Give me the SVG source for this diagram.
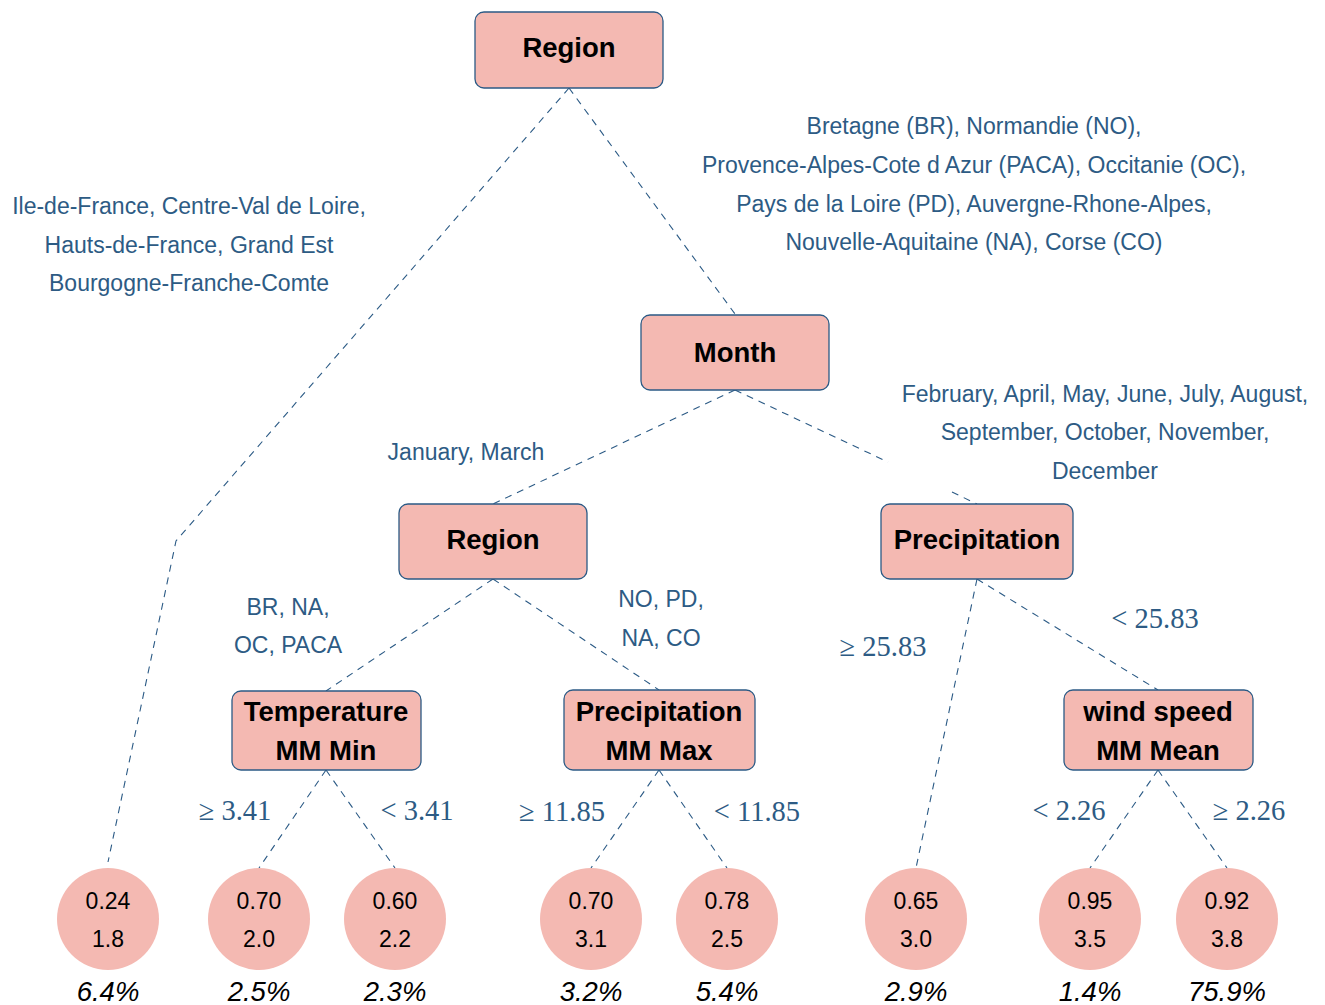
<svg xmlns="http://www.w3.org/2000/svg" width="1325" height="1005" viewBox="0 0 1325 1005">
<style>
.node rect{fill:#f4b9b2;stroke:#2b5a85;stroke-width:1.3}
.node text{font-family:"Liberation Sans",Arial,sans-serif;font-weight:bold;font-size:27.5px;fill:#000;text-anchor:middle}
.leaf circle{fill:#f4b9b2}
.leaf text{font-family:"Liberation Sans",Arial,sans-serif;font-size:23px;fill:#000;text-anchor:middle}
.leaf text.pct{font-style:italic;font-size:27.5px}
.edges path{fill:none;stroke:#2b5a85;stroke-width:1.1;stroke-dasharray:7 6}
.lbl{font-family:"Liberation Sans",Arial,sans-serif;font-size:23px;fill:#2d5b84;text-anchor:middle}
.math{font-family:"Liberation Serif","Times New Roman",serif;font-size:28.5px;fill:#2d5b84;text-anchor:middle}
</style>
<rect width="1325" height="1005" fill="#fff"/>
<g class="edges">
<path d="M569 88 L735 314"/>
<path d="M569 88 L176 541 L108 862"/>
<path d="M735 390 L493 504"/>
<path d="M735 390 L888 462"/>
<path d="M952 492 L977 504"/>
<path d="M493 579 L326 691"/>
<path d="M493 579 L659 690"/>
<path d="M977 579 L916 868"/>
<path d="M977 579 L1158 690"/>
<path d="M326 770 L259 868"/>
<path d="M326 770 L395 868"/>
<path d="M659 770 L591 868"/>
<path d="M659 770 L727 868"/>
<path d="M1158 770 L1090 868"/>
<path d="M1158 770 L1227 868"/>
</g>
<g id="edge-labels">
<text class="lbl" x="189" y="214">Ile-de-France, Centre-Val de Loire,</text>
<text class="lbl" x="189" y="253">Hauts-de-France, Grand Est</text>
<text class="lbl" x="189" y="291">Bourgogne-Franche-Comte</text>
<text class="lbl" x="974" y="134">Bretagne (BR), Normandie (NO),</text>
<text class="lbl" x="974" y="173">Provence-Alpes-Cote d Azur (PACA), Occitanie (OC),</text>
<text class="lbl" x="974" y="212">Pays de la Loire (PD), Auvergne-Rhone-Alpes,</text>
<text class="lbl" x="974" y="250">Nouvelle-Aquitaine (NA), Corse (CO)</text>
<text class="lbl" x="466" y="460">January, March</text>
<text class="lbl" x="1105" y="402">February, April, May, June, July, August,</text>
<text class="lbl" x="1105" y="440">September, October, November,</text>
<text class="lbl" x="1105" y="479">December</text>
<text class="lbl" x="288" y="615">BR, NA,</text>
<text class="lbl" x="288" y="653">OC, PACA</text>
<text class="lbl" x="661" y="607">NO, PD,</text>
<text class="lbl" x="661" y="646">NA, CO</text>
<text class="math" x="235" y="820">≥ 3.41</text>
<text class="math" x="417" y="820">&lt; 3.41</text>
<text class="math" x="562" y="821">≥ 11.85</text>
<text class="math" x="757" y="821">&lt; 11.85</text>
<text class="math" x="883" y="656">≥ 25.83</text>
<text class="math" x="1155" y="628">&lt; 25.83</text>
<text class="math" x="1069" y="820">&lt; 2.26</text>
<text class="math" x="1249" y="820">≥ 2.26</text>
</g>
<g id="n-region" class="node"><rect x="475" y="12" width="188" height="76" rx="9"/><text x="569" y="57">Region</text></g>
<g id="n-month" class="node"><rect x="641" y="315" width="188" height="75" rx="9"/><text x="735" y="362">Month</text></g>
<g id="n-region2" class="node"><rect x="399" y="504" width="188" height="75" rx="9"/><text x="493" y="549">Region</text></g>
<g id="n-precip" class="node"><rect x="881" y="504" width="192" height="75" rx="9"/><text x="977" y="549">Precipitation</text></g>
<g id="n-temp" class="node"><rect x="232" y="691" width="189" height="79" rx="9"/><text x="326" y="721">Temperature</text><text x="326" y="760">MM Min</text></g>
<g id="n-pmax" class="node"><rect x="564" y="690" width="191" height="80" rx="9"/><text x="659" y="721">Precipitation</text><text x="659" y="760">MM Max</text></g>
<g id="n-wind" class="node"><rect x="1064" y="690" width="189" height="80" rx="9"/><text x="1158" y="721">wind speed</text><text x="1158" y="760">MM Mean</text></g>
<g id="leaf1" class="leaf"><circle cx="108" cy="919" r="51"/><text x="108" y="909">0.24</text><text x="108" y="947">1.8</text><text class="pct" x="108" y="1001">6.4%</text></g>
<g id="leaf2" class="leaf"><circle cx="259" cy="919" r="51"/><text x="259" y="909">0.70</text><text x="259" y="947">2.0</text><text class="pct" x="259" y="1001">2.5%</text></g>
<g id="leaf3" class="leaf"><circle cx="395" cy="919" r="51"/><text x="395" y="909">0.60</text><text x="395" y="947">2.2</text><text class="pct" x="395" y="1001">2.3%</text></g>
<g id="leaf4" class="leaf"><circle cx="591" cy="919" r="51"/><text x="591" y="909">0.70</text><text x="591" y="947">3.1</text><text class="pct" x="591" y="1001">3.2%</text></g>
<g id="leaf5" class="leaf"><circle cx="727" cy="919" r="51"/><text x="727" y="909">0.78</text><text x="727" y="947">2.5</text><text class="pct" x="727" y="1001">5.4%</text></g>
<g id="leaf6" class="leaf"><circle cx="916" cy="919" r="51"/><text x="916" y="909">0.65</text><text x="916" y="947">3.0</text><text class="pct" x="916" y="1001">2.9%</text></g>
<g id="leaf7" class="leaf"><circle cx="1090" cy="919" r="51"/><text x="1090" y="909">0.95</text><text x="1090" y="947">3.5</text><text class="pct" x="1090" y="1001">1.4%</text></g>
<g id="leaf8" class="leaf"><circle cx="1227" cy="919" r="51"/><text x="1227" y="909">0.92</text><text x="1227" y="947">3.8</text><text class="pct" x="1227" y="1001">75.9%</text></g>
</svg>
